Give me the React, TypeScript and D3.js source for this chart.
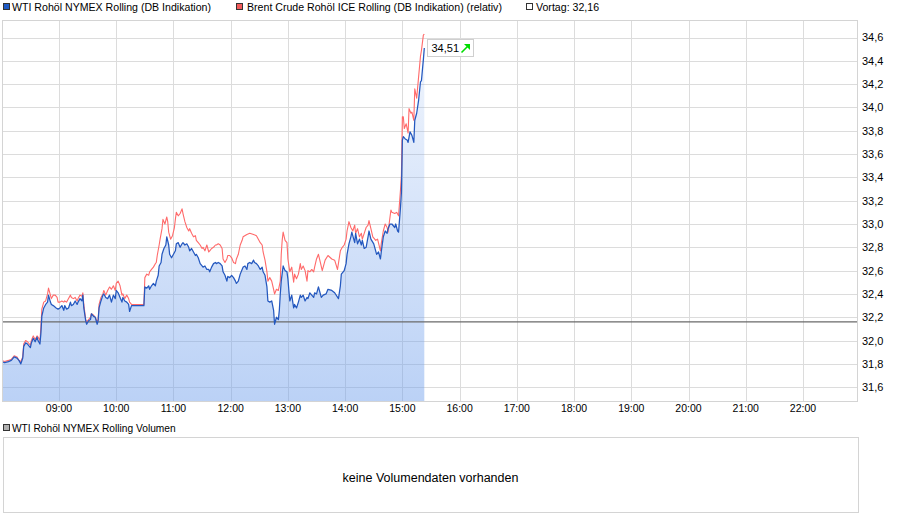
import React from "react";
import * as d3 from "d3";

// ---------- data ----------
const sessionStart = "08:00";
const axisStart = "08:00";
const axisEnd = "23:00";

// WTI (minutes after 08:00, price)
const wtiMinutes = [
  0, 3, 7, 10, 13, 16, 18, 20, 22, 23, 25, 27, 30, 31, 33, 35, 37, 38, 40, 41,
  42, 44, 46, 48, 49, 51, 52, 54, 57, 59, 61, 63, 65, 66, 68, 70, 72, 73, 75, 77,
  79, 80, 82, 84, 85, 86, 88, 89, 91, 93, 94, 96, 98, 100, 101, 102, 104, 106, 107, 109,
  111, 113, 115, 117, 119, 120, 122, 124, 126, 127, 129, 131, 133, 134, 136, 149, 150, 152, 154, 155,
  157, 159, 161, 162, 164, 165, 167, 168, 170, 172, 173, 175, 176, 178, 180, 182, 183, 185, 187, 189,
  190, 192, 194, 196, 197, 199, 201, 203, 204, 206, 208, 210, 211, 213, 215, 217, 218, 220, 222, 224,
  225, 227, 229, 231, 232, 234, 236, 237, 239, 241, 243, 245, 246, 248, 250, 252, 253, 255, 257, 258,
  260, 262, 264, 265, 267, 269, 271, 273, 274, 276, 278, 279, 281, 283, 285, 286, 288, 290, 291, 292,
  293, 295, 297, 299, 300, 301, 302, 304, 306, 307, 309, 311, 313, 314, 316, 318, 320, 321, 323, 325,
  327, 328, 330, 332, 335, 337, 340, 342, 346, 349, 353, 355, 356, 359, 361, 362, 364, 366, 367, 370,
  371, 373, 375, 377, 378, 380, 382, 384, 385, 387, 390, 391, 393, 395, 397, 398, 400, 402, 404, 405,
  407, 409, 412, 413, 415, 416, 418, 419, 420, 421, 423, 425, 426, 428, 430, 432, 433, 435, 437, 439,
  440, 442, 443,
];
const wtiValues = [
  31.82, 31.81, 31.82, 31.83, 31.86, 31.85, 31.83, 31.8, 31.85, 31.95, 31.98, 31.97, 31.94, 31.98, 32.02, 31.99, 32.03, 32.0, 31.97, 32.06,
  32.21, 32.28, 32.31, 32.33, 32.39, 32.33, 32.31, 32.3, 32.28, 32.27, 32.28, 32.3, 32.26, 32.3, 32.27, 32.28, 32.33, 32.3, 32.31, 32.34,
  32.31, 32.33, 32.36, 32.34, 32.39, 32.28, 32.17, 32.14, 32.17, 32.18, 32.23, 32.21, 32.2, 32.14, 32.17, 32.28, 32.34, 32.39, 32.4, 32.37,
  32.36, 32.39, 32.33, 32.39, 32.36, 32.43, 32.41, 32.37, 32.33, 32.37, 32.34, 32.33, 32.31, 32.25, 32.3, 32.3, 32.46, 32.45, 32.47, 32.44,
  32.47, 32.49, 32.47, 32.51, 32.56, 32.64, 32.67, 32.74, 32.79, 32.82, 32.89, 32.82, 32.74, 32.71, 32.74, 32.77, 32.83, 32.84, 32.8, 32.83,
  32.84, 32.82, 32.83, 32.8, 32.77, 32.79, 32.76, 32.73, 32.74, 32.71, 32.66, 32.64, 32.63, 32.64, 32.61, 32.61, 32.59, 32.63, 32.66, 32.67,
  32.66, 32.67, 32.66, 32.64, 32.59, 32.56, 32.51, 32.55, 32.54, 32.56, 32.54, 32.51, 32.49, 32.51, 32.57, 32.61, 32.63, 32.64, 32.61, 32.66,
  32.67, 32.66, 32.69, 32.67, 32.66, 32.64, 32.61, 32.63, 32.59, 32.56, 32.46, 32.34, 32.33, 32.34, 32.26, 32.14, 32.2, 32.18, 32.26, 32.4,
  32.51, 32.64, 32.6, 32.59, 32.53, 32.43, 32.34, 32.39, 32.28, 32.31, 32.28, 32.33, 32.39, 32.37, 32.39, 32.34, 32.37, 32.36, 32.41, 32.39,
  32.37, 32.41, 32.4, 32.46, 32.37, 32.39, 32.4, 32.44, 32.43, 32.41, 32.36, 32.47, 32.57, 32.6, 32.66, 32.74, 32.83, 32.89, 32.93, 32.84,
  32.92, 32.83, 32.87, 32.82, 32.86, 32.79, 32.8, 32.89, 32.94, 32.87, 32.83, 32.8, 32.74, 32.76, 32.7, 32.77, 32.89, 32.94, 32.92, 32.96,
  33.0, 33.0, 32.97, 33.0, 32.94, 32.93, 33.14, 33.27, 33.72, 33.75, 33.73, 33.72, 33.7, 33.79, 33.76, 33.7, 33.89, 33.95, 34.06, 34.22,
  34.23, 34.41, 34.51,
];

// Brent (relative to WTI), minutes after 08:00
const brentMinutes = [
  0, 3, 7, 10, 13, 16, 18, 20, 22, 23, 25, 27, 30, 31, 33, 35, 37, 38, 40, 41,
  42, 44, 46, 48, 49, 51, 52, 54, 56, 58, 59, 61, 63, 65, 66, 68, 70, 72, 73, 75,
  77, 79, 80, 82, 84, 85, 86, 88, 89, 91, 93, 94, 96, 98, 100, 101, 102, 104, 106, 107,
  109, 111, 113, 115, 117, 119, 120, 122, 124, 126, 127, 129, 131, 133, 134, 136, 149, 150, 152, 154,
  155, 157, 159, 161, 162, 163, 165, 166, 168, 169, 171, 173, 174, 175, 177, 179, 181, 182, 183, 185,
  187, 189, 190, 192, 194, 196, 197, 199, 201, 203, 204, 206, 208, 210, 211, 213, 215, 217, 218, 220,
  222, 224, 225, 227, 229, 231, 232, 234, 236, 237, 239, 241, 243, 245, 246, 248, 250, 252, 253, 257,
  260, 264, 267, 269, 271, 273, 274, 276, 278, 279, 281, 283, 285, 286, 288, 290, 292, 293, 294, 295,
  297, 299, 300, 302, 304, 306, 307, 309, 311, 313, 314, 316, 318, 320, 321, 323, 325, 327, 328, 330,
  332, 334, 336, 339, 342, 346, 349, 352, 355, 357, 359, 361, 362, 364, 366, 368, 370, 371, 373, 375,
  377, 378, 380, 382, 384, 385, 387, 389, 391, 392, 394, 397, 398, 400, 402, 404, 405, 408, 409, 412,
  414, 416, 418, 419, 420, 421, 422, 424, 426, 427, 429, 430, 432, 433, 435, 437, 439, 440, 442, 443,
];
const brentValues = [
  31.83, 31.82, 31.83, 31.84, 31.87, 31.86, 31.83, 31.82, 31.86, 31.97, 32.0, 31.99, 31.96, 32.0, 32.04, 32.01, 32.04, 32.03, 32.0, 32.11,
  32.27, 32.33, 32.34, 32.4, 32.45, 32.39, 32.36, 32.39, 32.39, 32.37, 32.33, 32.33, 32.34, 32.33, 32.34, 32.33, 32.36, 32.39, 32.37, 32.36,
  32.37, 32.34, 32.36, 32.39, 32.38, 32.41, 32.31, 32.18, 32.16, 32.18, 32.2, 32.23, 32.22, 32.2, 32.16, 32.18, 32.31, 32.37, 32.4, 32.43,
  32.39, 32.43, 32.46, 32.44, 32.47, 32.43, 32.49, 32.51, 32.47, 32.39, 32.4, 32.36, 32.39, 32.36, 32.33, 32.31, 32.31, 32.54, 32.57, 32.56,
  32.59, 32.61, 32.63, 32.66, 32.67, 32.73, 32.82, 32.87, 32.96, 33.04, 33.0, 33.06, 33.02, 32.93, 32.87, 32.9, 32.97, 33.04, 33.1, 33.07,
  33.09, 33.13, 33.09, 33.02, 32.97, 32.94, 32.96, 32.92, 32.89, 32.9, 32.86, 32.84, 32.82, 32.79, 32.8, 32.77, 32.82, 32.76, 32.77, 32.79,
  32.8, 32.82, 32.82, 32.83, 32.82, 32.79, 32.7, 32.67, 32.7, 32.73, 32.73, 32.71, 32.67, 32.66, 32.7, 32.74, 32.82, 32.86, 32.89, 32.91,
  32.92, 32.91, 32.9, 32.87, 32.84, 32.82, 32.76, 32.69, 32.59, 32.51, 32.54, 32.51, 32.44, 32.4, 32.44, 32.43, 32.51, 32.74, 32.86, 32.93,
  32.86, 32.84, 32.7, 32.59, 32.63, 32.5, 32.57, 32.53, 32.57, 32.66, 32.61, 32.64, 32.6, 32.51, 32.6, 32.59, 32.61, 32.59, 32.63, 32.7,
  32.74, 32.67, 32.6, 32.69, 32.73, 32.7, 32.69, 32.61, 32.77, 32.8, 32.82, 32.87, 32.94, 33.02, 32.97, 32.94, 32.99, 32.92, 32.96, 32.89,
  32.92, 32.87, 32.92, 32.97, 32.99, 33.03, 32.96, 32.89, 32.87, 32.86, 32.87, 32.77, 32.84, 32.94, 33.0, 32.97, 32.93, 33.12, 33.1, 33.09,
  33.1, 33.07, 33.29, 33.42, 33.92, 33.92, 33.82, 33.86, 33.78, 33.99, 33.95, 33.96, 33.89, 34.16, 34.08, 34.26, 34.44, 34.49, 34.62, 34.63,
];

const yTicks = [31.6, 31.8, 32.0, 32.2, 32.4, 32.6, 32.8, 33.0, 33.2, 33.4, 33.6, 33.8, 34.0, 34.2, 34.4, 34.6];
const hourTicks = ["09:00", "10:00", "11:00", "12:00", "13:00", "14:00", "15:00", "16:00", "17:00", "18:00", "19:00", "20:00", "21:00", "22:00"];
const previousClose = 32.16;
const lastPrice = 34.51;

const legendLabels = [
  "WTI Rohöl NYMEX Rolling (DB Indikation)",
  "Brent Crude Rohöl ICE Rolling (DB Indikation) (relativ)",
  "Vortag: 32,16",
];
const volumeLegend = "WTI Rohöl NYMEX Rolling Volumen";
const volumeMessage = "keine Volumendaten vorhanden";

// ---------- helpers ----------
const FONT = "'Liberation Sans', Arial, Helvetica, sans-serif";
const toDate = (hhmm: string, addMin = 0) => {
  const [h, m] = hhmm.split(":").map(Number);
  return new Date(2016, 0, 4, h, m + addMin, 0);
};
const fmt = (v: number, d: number) => v.toFixed(d).replace(".", ",");

export default function App() {
  const plotLeft = 2;
  const plotRight = 858;
  const plotTop = 20;
  const plotBottom = 401;

  const x = d3.scaleTime().domain([toDate(axisStart), toDate(axisEnd)]).range([1.77, 860.2]);
  const y = d3.scaleLinear().domain([31.6, 34.6]).range([387.2, 37.5]);

  const wti: [Date, number][] = wtiMinutes.map((m, i) => [toDate(sessionStart, m), wtiValues[i]]);
  const brent: [Date, number][] = brentMinutes.map((m, i) => [toDate(sessionStart, m), brentValues[i]]);

  const line = d3.line<[Date, number]>().x((d) => x(d[0])).y((d) => y(d[1]));
  const area = d3
    .area<[Date, number]>()
    .x((d) => x(d[0]))
    .y0(plotBottom)
    .y1((d) => y(d[1]));

  const last = wti[wti.length - 1];
  const lx = x(last[0]);
  const ly = y(last[1]);
  const boxX = Math.round(lx) + 3.5;
  const boxY = Math.round(ly) - 8.5;

  const legendX = [{ sq: 3, tx: 12 }, { sq: 236, tx: 247 }, { sq: 526, tx: 536 }];
  const legendFill = ["#1f5bc6", "#f25a5a", "#ffffff"];

  return (
    <svg
      width={900}
      height={526}
      style={{ position: "absolute", left: 0, top: 0, display: "block", background: "#fff" }}
      fontFamily={FONT}
    >
      <defs>
        <linearGradient id="areaGrad" gradientUnits="userSpaceOnUse" x1="0" y1={plotTop} x2="0" y2={plotBottom}>
          <stop offset="0" stopColor="rgb(113,160,236)" stopOpacity={0.08} />
          <stop offset="1" stopColor="rgb(113,160,236)" stopOpacity={0.48} />
        </linearGradient>
        <clipPath id="plotClip">
          <rect x={plotLeft} y={plotTop} width={plotRight - plotLeft} height={plotBottom - plotTop} />
        </clipPath>
      </defs>
      <rect x={0} y={0} width={900} height={526} fill="#fff" />

      {/* top legend */}
      {legendLabels.map((lab, i) => (
        <g key={lab}>
          <rect x={legendX[i].sq + 0.5} y={3.5} width={6} height={6} fill={legendFill[i]} stroke="#333" strokeWidth={1} />
          <text x={legendX[i].tx} y={11} fontSize={10.6} fill="#000">
            {lab}
          </text>
        </g>
      ))}

      {/* grid */}
      {yTicks.map((t) => (
        <line key={t} x1={plotLeft} x2={plotRight} y1={Math.round(y(t)) + 0.5} y2={Math.round(y(t)) + 0.5} stroke="#dcdcdc" />
      ))}
      {hourTicks.map((h) => (
        <line key={h} x1={Math.round(x(toDate(h))) + 0.5} x2={Math.round(x(toDate(h))) + 0.5} y1={plotTop} y2={plotBottom} stroke="#dcdcdc" />
      ))}

      {/* area + lines */}
      <g clipPath="url(#plotClip)">
        <path d={area(wti) || ""} fill="url(#areaGrad)" />
        <line
          x1={plotLeft}
          x2={plotRight}
          y1={y(previousClose)}
          y2={y(previousClose)}
          stroke="#6a6a6a"
          strokeWidth={1.4}
        />
        <path d={line(brent) || ""} fill="none" stroke="#ff6a6a" strokeWidth={1.1} strokeLinejoin="round" />
        <path d={line(wti) || ""} fill="none" stroke="#2458bf" strokeWidth={1.25} strokeLinejoin="round" />
      </g>

      {/* frame */}
      <rect
        x={plotLeft + 0.5}
        y={plotTop + 0.5}
        width={plotRight - plotLeft - 1}
        height={plotBottom - plotTop}
        fill="none"
        stroke="#d4d4d4"
      />

      {/* y labels */}
      {yTicks.map((t) => (
        <text key={t} x={862} y={y(t)} dy="0.36em" fontSize={11} fill="#000">
          {fmt(t, 1)}
        </text>
      ))}
      {/* x labels */}
      {hourTicks.map((h) => (
        <text key={h} x={x(toDate(h))} y={408} dy="0.36em" fontSize={10.5} textAnchor="middle" fill="#000">
          {h}
        </text>
      ))}

      {/* last price box */}
      <g>
        <rect x={boxX} y={boxY} width={46} height={17} fill="#fff" stroke="#cfcfcf" />
        <text x={boxX + 4} y={boxY + 8.5} dy="0.36em" fontSize={11} fill="#000">
          {fmt(lastPrice, 2)}
        </text>
        <g stroke="#00dd00" fill="#00dd00">
          <line x1={boxX + 34} y1={boxY + 13} x2={boxX + 40} y2={boxY + 7} strokeWidth={1.6} />
          <path d={`M${boxX + 42.5},${boxY + 4.5} L${boxX + 42.5},${boxY + 10.5} L${boxX + 36.5},${boxY + 4.5} Z`} stroke="none" />
        </g>
      </g>

      {/* volume panel */}
      <rect x={3.5} y={424.5} width={6} height={6} fill="#b0b0b0" stroke="#333" />
      <text x={12} y={432} fontSize={10.2} fill="#000">
        {volumeLegend}
      </text>
      <rect x={3.5} y={437.5} width={855} height={75} fill="#fff" stroke="#d4d4d4" />
      <text x={430.5} y={477} dy="0.36em" fontSize={12.5} textAnchor="middle" fill="#000">
        {volumeMessage}
      </text>
    </svg>
  );
}
